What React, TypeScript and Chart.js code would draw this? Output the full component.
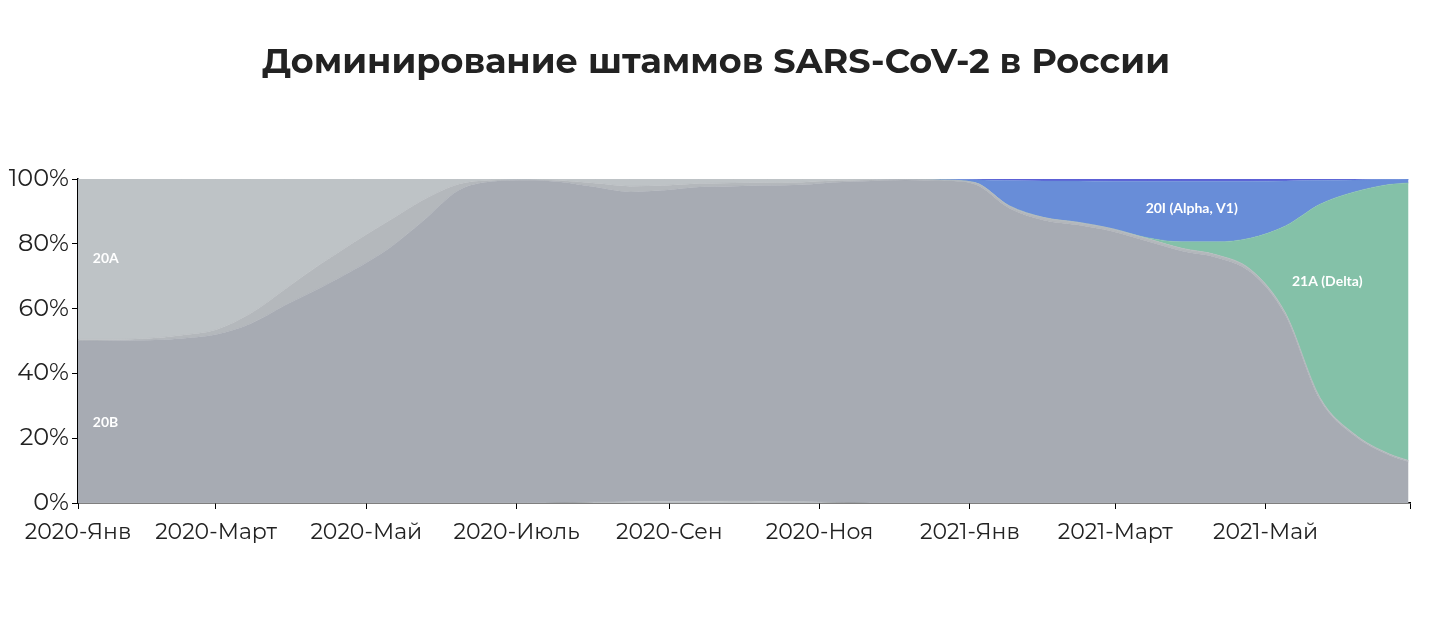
import React, { useEffect, useRef } from "react";
import { Chart, registerables } from "chart.js";

Chart.register(...registerables);

// ---- data ----
const TITLE = "Доминирование штаммов SARS-CoV-2 в России";

const dates = [
  "2020-01-05", "2020-01-19", "2020-02-02", "2020-02-16", "2020-03-01", "2020-03-15",
  "2020-03-29", "2020-04-12", "2020-04-26", "2020-05-10", "2020-05-24", "2020-06-07",
  "2020-06-21", "2020-07-05", "2020-07-19", "2020-08-02", "2020-08-16", "2020-08-30",
  "2020-09-13", "2020-09-27", "2020-10-11", "2020-10-25", "2020-11-08", "2020-11-22",
  "2020-12-06", "2020-12-20", "2021-01-03", "2021-01-17", "2021-01-31", "2021-02-14",
  "2021-02-28", "2021-03-14", "2021-03-28", "2021-04-11", "2021-04-25", "2021-05-09",
  "2021-05-23", "2021-06-06", "2021-06-20", "2021-06-28",
];

const s19A = [
  0, 0, 0, 0, 0, 0, 0, 0, 0, 0, 0, 0, 0, 0, 0.1, 0.3, 0.4, 0.5, 0.5, 0.6,
  0.5, 0.4, 0.2, 0, 0, 0, 0, 0, 0, 0, 0, 0, 0, 0, 0, 0, 0, 0, 0, 0,
];
const s20B = [
  50, 50.1, 50.2, 50.8, 52, 55.3, 61, 66.3, 72, 78.5, 87, 96.3, 99.2, 99.6, 99.0, 97.2,
  95.6, 96.0, 97.0, 97.2, 97.5, 97.8, 98.8, 99.4, 99.7, 99.5, 98.4, 91.0, 87.3, 85.8,
  83.8, 80.8, 77.8, 75.8, 71.2, 58.0, 32, 20.8, 14.8, 12.7,
];
const s20C = [
  0.5, 0.4, 0.6, 1.0, 1.5, 3.2, 5, 7.2, 8.5, 8.5, 6.5, 2.0, 0.4, 0.2, 0.4, 1.2,
  1.8, 1.5, 1.1, 1.0, 0.9, 0.8, 0.5, 0.3, 0.2, 0.2, 0.5, 0.7, 0.8, 0.8,
  0.8, 0.8, 0.8, 0.8, 0.8, 0.7, 0.6, 0.5, 0.4, 0.4,
];
const s20A = [
  49.5, 49.5, 49.2, 48.2, 46.5, 41.5, 34, 26.5, 19.5, 13, 6.5, 1.7, 0.4, 0.2, 0.5, 1.3,
  2.2, 2.0, 1.4, 1.2, 1.1, 1.0, 0.5, 0.3, 0.1, 0, 0, 0, 0, 0,
  0, 0, 0, 0, 0, 0, 0, 0, 0, 0,
];
const s21A = [
  0, 0, 0, 0, 0, 0, 0, 0, 0, 0, 0, 0, 0, 0, 0, 0, 0, 0, 0, 0,
  0, 0, 0, 0, 0, 0, 0, 0, 0, 0, 0, 0.3, 2.0, 4.0, 9.8, 26.8, 59.6, 74.7, 83.1, 85.7,
];
const s20I = [
  0, 0, 0, 0, 0, 0, 0, 0, 0, 0, 0, 0, 0, 0, 0, 0, 0, 0, 0, 0,
  0, 0, 0, 0, 0, 0.3, 0.9, 7.8, 11.3, 12.8, 14.7, 17.4, 18.7, 18.7, 17.5, 13.9, 7.4, 3.7, 1.6, 1.2,
];
const s20H = [
  0, 0, 0, 0, 0, 0, 0, 0, 0, 0, 0, 0, 0, 0, 0, 0, 0, 0, 0, 0,
  0, 0, 0, 0, 0, 0, 0.2, 0.5, 0.6, 0.6, 0.7, 0.7, 0.7, 0.7, 0.7, 0.6, 0.4, 0.3, 0.1, 0,
];

const seriesNames = ["19A", "20B", "20C", "20A", "21A (Delta)", "20I (Alpha, V1)", "20H (Beta, V2)"];
const seriesValues = [s19A, s20B, s20C, s20A, s21A, s20I, s20H];
const seriesColors = ["#b9bdc1", "#a7abb3", "#b4b8bc", "#bec3c6", "#84c1a8", "#688dd8", "#5c60d6"];

const tickDates = [
  "2020-01-01", "2020-03-01", "2020-05-01", "2020-07-01", "2020-09-01",
  "2020-11-01", "2021-01-01", "2021-03-01", "2021-05-01",
];
const tickLabels = [
  "2020-Янв", "2020-Март", "2020-Май", "2020-Июль", "2020-Сен",
  "2020-Ноя", "2021-Янв", "2021-Март", "2021-Май",
];
const yTicks = [0, 20, 40, 60, 80, 100];

const areaLabels = [
  { text: "20A", date: "2020-01-11", pct: 75.5, align: "left" },
  { text: "20B", date: "2020-01-11", pct: 25, align: "left" },
  { text: "20I (Alpha, V1)", date: "2021-04-01", pct: 91, align: "center" },
  { text: "21A (Delta)", date: "2021-05-26", pct: 68.5, align: "center" },
];

const END_DATE = "2021-06-28";

// ---- helpers ----
const EPOCH = Date.UTC(2020, 0, 1);
const toDay = (s: string) => {
  const [y, m, d] = s.split("-").map(Number);
  return (Date.UTC(y, m - 1, d) - EPOCH) / 86400000;
};

const FONT = "Montserrat, 'DejaVu Sans', sans-serif";

export default function App() {
  const ref = useRef<HTMLCanvasElement | null>(null);

  useEffect(() => {
    if (!ref.current) return;
    const xs = dates.map(toDay);
    const xMin = xs[0];
    const xMax = toDay(END_DATE) + 0.6;

    const labelPlugin = {
      id: "areaLabels",
      afterDatasetsDraw(chart: any) {
        const { ctx, scales } = chart;
        ctx.save();
        ctx.fillStyle = "#ffffff";
        ctx.font = "bold 14px Lato, 'Open Sans', sans-serif";
        ctx.textBaseline = "middle";
        areaLabels.forEach((l) => {
          ctx.textAlign = l.align;
          ctx.fillText(l.text, scales.x.getPixelForValue(toDay(l.date)), scales.y.getPixelForValue(l.pct));
        });
        ctx.restore();
      },
    };

    const chart = new Chart(ref.current, {
      type: "line",
      data: {
        datasets: seriesNames.map((name, i) => ({
          label: name,
          data: xs.map((x, j) => ({ x, y: seriesValues[i][j] })),
          backgroundColor: seriesColors[i],
          borderColor: seriesColors[i],
          borderWidth: 0.5,
          pointRadius: 0,
          fill: i === 0 ? "origin" : "-1",
          cubicInterpolationMode: "monotone",
        })),
      },
      options: {
        animation: false,
        responsive: false,
        layout: { padding: { left: 0, right: 22, top: 179, bottom: 0 } },
        plugins: {
          legend: { display: false },
          tooltip: { enabled: false },
          title: { display: false },
        },
        scales: {
          x: {
            type: "linear",
            min: xMin,
            max: xMax,
            afterBuildTicks: (scale: any) => {
              const t = tickDates.map((d) => ({ value: Math.max(xMin, toDay(d)) }));
              t.push({ value: xMax });
              scale.ticks = t;
            },
            afterFit: (scale: any) => {
              scale.height = 130;
            },
            ticks: {
              autoSkip: false,
              maxRotation: 0,
              padding: 10,
              color: "#222222",
              font: { family: FONT, size: 22 },
              callback: (_v: any, i: number) => tickLabels[i] ?? "",
            },
            grid: { display: true, drawOnChartArea: false, drawTicks: true, tickLength: 6, color: "#000000" },
            border: { display: true, color: "#000000", width: 1.5 },
          },
          y: {
            stacked: true,
            min: 0,
            max: 100,
            afterBuildTicks: (scale: any) => {
              scale.ticks = yTicks.map((v) => ({ value: v }));
            },
            afterFit: (scale: any) => {
              scale.width = 78;
            },
            ticks: {
              padding: 3,
              color: "#222222",
              font: { family: FONT, size: 24 },
              callback: (v: any) => v + "%",
            },
            grid: { display: true, drawOnChartArea: false, drawTicks: true, tickLength: 6, color: "#000000" },
            border: { display: true, color: "#000000", width: 1.5 },
          },
        },
      },
      plugins: [labelPlugin],
    } as any);

    return () => chart.destroy();
  }, []);

  return (
    <div style={{ position: "absolute", left: 0, top: 0, width: 1432, height: 633, background: "#fff" }}>
      <div
        style={{
          position: "absolute",
          left: 0,
          top: 40,
          width: 1432,
          textAlign: "center",
          fontFamily: FONT,
          fontWeight: 700,
          fontSize: 35,
          lineHeight: "42px",
          color: "#222222",
        }}
      >
        {TITLE}
      </div>
      <canvas ref={ref} width={1432} height={633} style={{ width: 1432, height: 633, display: "block" }} />
    </div>
  );
}
